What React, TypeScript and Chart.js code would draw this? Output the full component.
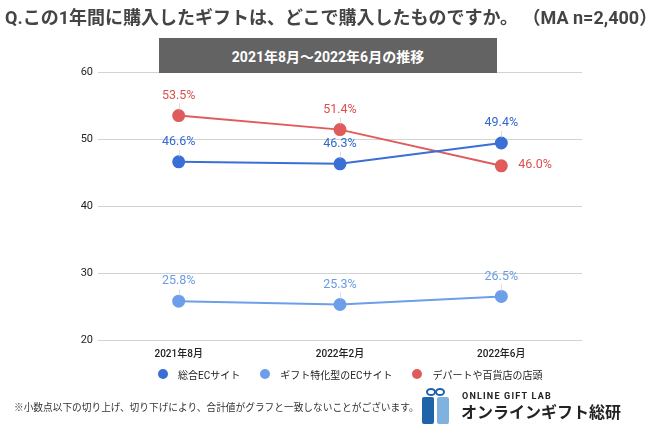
import React, { useEffect, useRef } from "react";
import { Chart, registerables } from "chart.js";

Chart.register(...registerables);

const categories = ["2021年8月", "2022年2月", "2022年6月"];
const generalEC = [46.6, 46.3, 49.4];
const giftEC = [25.8, 25.3, 26.5];
const department = [53.5, 51.4, 46.0];
const seriesNames = ["総合ECサイト", "ギフト特化型のECサイト", "デパートや百貨店の店頭"];
const yMin = 20;
const yMax = 60;
const yStep = 10;

const colors = ["#3a6fd6", "#6d9eea", "#e05c5c"];
const labelColors = ["#3169cf", "#6a9be6", "#d9504f"];
const labelPlacement = [
  ["top", "top", "top"],
  ["top", "top", "top"],
  ["top", "top", "right"],
];

const FONT = "Roboto, 'Noto Sans CJK JP', sans-serif";

const dataLabelPlugin = {
  id: "dataLabels",
  afterDatasetsDraw(chart: any) {
    const ctx = chart.ctx;
    chart.data.datasets.forEach((ds: any, di: number) => {
      const meta = chart.getDatasetMeta(di);
      meta.data.forEach((pt: any, i: number) => {
        const v = ds.data[i];
        const text = v.toFixed(1) + "%";
        const pos = labelPlacement[di][i];
        ctx.save();
        ctx.font = `12.5px ${FONT}`;
        ctx.fillStyle = labelColors[di];
        ctx.textBaseline = "middle";
        if (pos === "right") {
          ctx.textAlign = "left";
          ctx.fillText(text, pt.x + 17, pt.y - 1);
        } else {
          const ly = pt.y - 20;
          ctx.strokeStyle = "rgba(200,200,200,0.6)";
          ctx.lineWidth = 1;
          ctx.beginPath();
          ctx.moveTo(Math.round(pt.x) + 0.5, ly + 8);
          ctx.lineTo(Math.round(pt.x) + 0.5, pt.y - 5);
          ctx.stroke();
          ctx.textAlign = "center";
          ctx.fillText(text, pt.x, ly);
        }
        ctx.restore();
      });
    });
  },
};

export default function App() {
  const canvasRef = useRef<HTMLCanvasElement | null>(null);

  useEffect(() => {
    if (!canvasRef.current) return;
    const values = [generalEC, giftEC, department];
    const chart = new Chart(canvasRef.current, {
      type: "line",
      data: {
        labels: categories,
        datasets: values.map((d, i) => ({
          label: seriesNames[i],
          data: d,
          borderColor: colors[i],
          backgroundColor: colors[i],
          pointBackgroundColor: colors[i],
          pointBorderColor: colors[i],
          pointRadius: 5.5,
          borderWidth: 2,
          tension: 0,
        })),
      },
      options: {
        animation: false,
        responsive: false,
        maintainAspectRatio: false,
        layout: { padding: { left: 0, right: 68, top: 72, bottom: 0 } },
        plugins: {
          legend: { display: false },
          tooltip: { enabled: false },
          title: { display: false },
        },
        scales: {
          x: {
            type: "category",
            offset: true,
            grid: { display: false, drawTicks: false },
            border: { display: false },
            ticks: {
              padding: 8,
              color: "#222",
              font: { family: FONT, size: 10, weight: "500" },
            },
            afterFit: (s: any) => {
              s.height = 88;
            },
          },
          y: {
            min: yMin,
            max: yMax,
            grid: { color: "#d2d2d2", drawTicks: false, lineWidth: 1 },
            border: { display: false },
            ticks: {
              stepSize: yStep,
              padding: 5,
              color: "#222",
              font: { family: FONT, size: 11 },
            },
            afterFit: (s: any) => {
              s.width = 98;
            },
          },
        },
      },
      plugins: [dataLabelPlugin],
    });
    return () => chart.destroy();
  }, []);

  const legendItems = seriesNames.map((n, i) => (
    <div key={n} style={{ display: "flex", alignItems: "center", marginRight: i < 2 ? 20 : 0 }}>
      <span
        style={{
          display: "inline-block",
          width: 10,
          height: 10,
          borderRadius: "50%",
          background: colors[i],
          marginRight: 10,
        }}
      />
      <span style={{ fontSize: 10, color: "#222", whiteSpace: "nowrap" }}>{n}</span>
    </div>
  ));

  return (
    <div
      style={{
        position: "absolute",
        left: 0,
        top: 0,
        width: 650,
        height: 428,
        background: "#fff",
        fontFamily: FONT,
        overflow: "hidden",
      }}
    >
      <canvas ref={canvasRef} width={650} height={428} style={{ position: "absolute", left: 0, top: 0, width: 650, height: 428 }} />
      <div
        style={{
          position: "absolute",
          left: 5,
          top: 7,
          fontSize: 18,
          fontWeight: 700,
          color: "#444",
          whiteSpace: "nowrap",
          lineHeight: "22px",
        }}
      >
        Q.この1年間に購入したギフトは、どこで購入したものですか。 （MA n=2,400）
      </div>
      <div
        style={{
          position: "absolute",
          left: 159,
          top: 38,
          width: 338,
          height: 35,
          background: "#636363",
          color: "#fff",
          fontSize: 14,
          fontWeight: 700,
          display: "flex",
          alignItems: "center",
          justifyContent: "center",
        }}
      >
        2021年8月〜2022年6月の推移
      </div>
      <div
        style={{
          position: "absolute",
          left: 158,
          top: 366,
          height: 16,
          display: "flex",
          alignItems: "center",
        }}
      >
        {legendItems}
      </div>
      <div
        style={{
          position: "absolute",
          left: 14,
          top: 401,
          fontSize: 9.7,
          color: "#333",
          whiteSpace: "nowrap",
          lineHeight: "14px",
        }}
      >
        ※小数点以下の切り上げ、切り下げにより、合計値がグラフと一致しないことがございます。
      </div>
      <svg style={{ position: "absolute", left: 418, top: 386 }} width={36} height={40}>
        <ellipse cx={13} cy={6} rx={4} ry={3} fill="none" stroke="#1f63a8" strokeWidth={2} />
        <ellipse cx={22} cy={6} rx={4} ry={3} fill="none" stroke="#1f63a8" strokeWidth={2} />
        <rect x={4} y={11} width={12} height={27} rx={2} fill="#1f63a8" />
        <rect x={19} y={11} width={12} height={27} rx={2} fill="#7fb2de" />
      </svg>
      <div
        style={{
          position: "absolute",
          left: 462,
          top: 390,
          fontSize: 9,
          fontWeight: 700,
          letterSpacing: 1.2,
          color: "#222",
          whiteSpace: "nowrap",
          lineHeight: "12px",
        }}
      >
        ONLINE GIFT LAB
      </div>
      <div
        style={{
          position: "absolute",
          left: 461,
          top: 403,
          fontSize: 16,
          fontWeight: 700,
          color: "#222",
          whiteSpace: "nowrap",
          lineHeight: "20px",
        }}
      >
        オンラインギフト総研
      </div>
    </div>
  );
}
